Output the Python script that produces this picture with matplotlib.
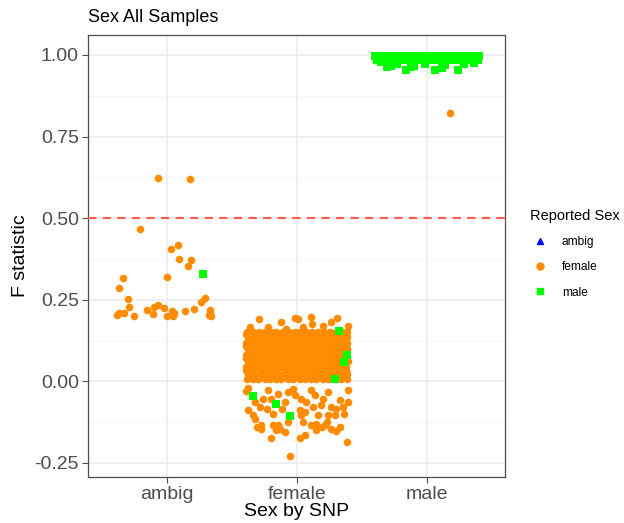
import numpy as np
import matplotlib
matplotlib.use("Agg")
import matplotlib.pyplot as plt
from matplotlib.lines import Line2D

plt.rcParams["font.family"] = ["Liberation Sans", "DejaVu Sans"]

# categories on x (Sex by SNP)
categories = ["ambig", "female", "male"]

# ambig group, reported female (offset from category centre, F)
ambig_f_x = [-0.064, 0.179, -0.205, 0.087, 0.031, 0.092, 0.189, 0.161, -0.337, 0.003,
             -0.366, -0.301, 0.294, 0.261, -0.291, -0.069, -0.097, -0.151, -0.102, -0.021,
             -0.381, -0.366, -0.329, -0.251, 0.003, 0.038, 0.056, 0.049, 0.138, 0.209,
             0.330, 0.335, 0.342, 0.324]
ambig_f_y = [0.622, 0.621, 0.468, 0.419, 0.404, 0.376, 0.373, 0.353, 0.316, 0.321,
             0.286, 0.252, 0.254, 0.244, 0.228, 0.235, 0.228, 0.220, 0.207, 0.224,
             0.203, 0.210, 0.209, 0.201, 0.201, 0.214, 0.209, 0.201, 0.216, 0.223,
             0.220, 0.210, 0.200, 0.202]
# ambig group, reported male
ambig_m_x = [0.278]
ambig_m_y = [0.329]

# female group: dense core, rows of (F, offsets)
female_core = [
    (0.006, [-0.386, -0.338, -0.297, -0.246, -0.207, -0.158, -0.118, -0.066, -0.027, 0.022, 0.061, 0.113, 0.152, 0.204, 0.243, 0.291, 0.338, 0.384]),
    (0.015, [-0.364, -0.317, -0.273, -0.226, -0.183, -0.137, -0.091, -0.044, 0.001, 0.045, 0.091, 0.136, 0.181, 0.226, 0.271, 0.316, 0.362]),
    (0.024, [-0.371, -0.322, -0.281, -0.233, -0.188, -0.141, -0.094, -0.049, -0.004, 0.043, 0.088, 0.131, 0.177, 0.222, 0.268, 0.313, 0.358, 0.389]),
    (0.034, [-0.392, -0.346, -0.259, -0.213, -0.167, -0.072, -0.026, 0.019, 0.066, 0.109, 0.154, 0.199, 0.246, 0.336, 0.381]),
    (0.043, [-0.389, -0.344, -0.301, -0.255, -0.212, -0.166, -0.122, -0.075, -0.031, 0.014, 0.057, 0.104, 0.149, 0.193, 0.238, 0.284, 0.329, 0.377]),
    (0.052, [-0.366, -0.318, -0.277, -0.232, -0.187, -0.143, -0.097, -0.052, -0.006, 0.037, 0.081, 0.127, 0.171, 0.216, 0.262, 0.307, 0.354]),
    (0.061, [-0.378, -0.329, -0.286, -0.239, -0.193, -0.149, -0.102, -0.058, -0.011, 0.034, 0.079, 0.126, 0.169, 0.214, 0.259, 0.306, 0.352, 0.391]),
    (0.070, [-0.391, -0.353, -0.308, -0.262, -0.216, -0.171, -0.126, -0.081, -0.035, 0.011, 0.056, 0.101, 0.147, 0.192, 0.237, 0.283, 0.327, 0.372]),
    (0.080, [-0.388, -0.342, -0.296, -0.251, -0.206, -0.161, -0.114, -0.069, -0.023, 0.021, 0.067, 0.112, 0.158, 0.203, 0.249, 0.294, 0.339, 0.382]),
    (0.089, [-0.362, -0.319, -0.272, -0.228, -0.183, -0.136, -0.092, -0.046, -0.001, 0.046, 0.092, 0.137, 0.182, 0.227, 0.273, 0.318, 0.364]),
    (0.098, [-0.374, -0.327, -0.283, -0.236, -0.191, -0.145, -0.099, -0.054, -0.008, 0.038, 0.083, 0.129, 0.174, 0.219, 0.263, 0.309, 0.355, 0.389]),
    (0.108, [-0.393, -0.351, -0.306, -0.259, -0.214, -0.169, -0.123, -0.078, -0.033, 0.013, 0.058, 0.103, 0.149, 0.194, 0.239, 0.285, 0.331, 0.376]),
    (0.117, [-0.387, -0.341, -0.294, -0.249, -0.203, -0.158, -0.111, -0.066, -0.021, 0.025, 0.071, 0.116, 0.161, 0.206, 0.252, 0.297, 0.342, 0.385]),
    (0.126, [-0.361, -0.314, -0.268, -0.224, -0.179, -0.133, -0.087, -0.042, 0.004, 0.049, 0.094, 0.141, 0.186, 0.231, 0.276, 0.322, 0.367]),
    (0.135, [-0.376, -0.331, -0.285, -0.238, -0.194, -0.148, -0.103, -0.057, -0.012, 0.033, 0.078, 0.124, 0.168, 0.215, 0.258, 0.304, 0.349, 0.388]),
    (0.144, [-0.392, -0.356, -0.309, -0.264, -0.219, -0.173, -0.128, -0.083, -0.037, 0.009, 0.053, 0.098, 0.144, 0.189, 0.234, 0.279, 0.326, 0.371]),
    (0.152, [-0.383, -0.339, -0.291, -0.247, -0.199, -0.156, -0.108, -0.063, -0.017, 0.029, 0.074, 0.119, 0.165, 0.209, 0.256, 0.301, 0.345, 0.386]),
]
# female group: scattered points outside the core
female_f_x = [-0.291, -0.123, -0.010, 0.010, 0.113, 0.118, 0.266, 0.307, 0.393, -0.360, -0.220, -0.079, 0.048, 0.201,
              -0.393, -0.373, -0.335, -0.317, -0.309, -0.271, -0.271, -0.194, -0.182, -0.156, -0.143, -0.130, -0.092,
              -0.067, -0.054, 0.023, 0.061, 0.048, 0.113, 0.151, 0.194, 0.215, 0.235, 0.266, 0.304, 0.330, 0.389,
              0.367, 0.291, 0.240, 0.164, 0.061, 0.023, -0.182, -0.232, -0.283, -0.117, -0.092, -0.194, -0.258,
              -0.322, 0.036, 0.074, 0.125, 0.189, 0.266, 0.304, 0.355, 0.393, 0.330, 0.201, 0.138, -0.015, -0.143,
              -0.220, -0.373, -0.028, -0.067, 0.113, 0.240, 0.393, 0.036, 0.151]
female_f_y = [0.192, 0.182, 0.194, 0.190, 0.197, 0.177, 0.182, 0.194, 0.171, 0.166, 0.166, 0.161, 0.166, 0.171,
              -0.031, -0.089, -0.104, -0.114, -0.140, -0.135, -0.145, -0.175, -0.135, -0.150, -0.135, -0.145, -0.155,
              -0.125, -0.229, -0.175, -0.163, -0.125, -0.135, -0.130, -0.140, -0.135, -0.125, -0.145, -0.153, -0.140, -0.186,
              -0.099, -0.102, -0.102, -0.102, -0.094, -0.089, -0.099, -0.084, -0.079, -0.084, -0.063, -0.053, -0.053,
              -0.063, -0.053, -0.063, -0.079, -0.073, -0.079, -0.084, -0.079, -0.063, -0.058, -0.053, -0.043, -0.043, -0.038,
              -0.028, -0.020, -0.022, -0.033, -0.028, -0.033, -0.028, -0.104, -0.150]
female_m_x = [-0.335, -0.156, -0.048, 0.322, 0.388, 0.360, 0.291]
female_m_y = [-0.046, -0.068, -0.106, 0.153, 0.080, 0.059, 0.006]

# male group: reported male rows near 1
male_core = [
    (0.997, [-0.398, -0.361, -0.322, -0.284, -0.247, -0.205, -0.168, -0.129, -0.091, -0.052, -0.013, 0.026, 0.064, 0.103, 0.141, 0.182, 0.219, 0.258, 0.297, 0.336, 0.373, 0.399]),
    (0.986, [-0.384, -0.345, -0.301, -0.262, -0.221, -0.186, -0.144, -0.107, -0.066, -0.029, 0.011, 0.047, 0.088, 0.127, 0.163, 0.204, 0.243, 0.279, 0.318, 0.357, 0.392]),
]
male_m_x = [-0.304, -0.278, -0.156, -0.125, -0.100, -0.010, 0.067, 0.117, 0.143, 0.238, 0.284, 0.360, -0.232, -0.355]
male_m_y = [0.962, 0.965, 0.955, 0.962, 0.967, 0.973, 0.955, 0.960, 0.969, 0.955, 0.973, 0.976, 0.973, 0.978]
male_f_x = [0.176]
male_f_y = [0.821]

ORANGE = "#FF8C00"
GREEN = "#00FF00"
BLUE = "#0000FF"

fig = plt.figure(figsize=(6.24, 5.23), dpi=100)
ax = fig.add_axes([0.141, 0.088, 0.668, 0.845])

# female-reported points
fx, fy = [], []
fx += [1 + v for v in ambig_f_x]; fy += ambig_f_y
for yv, offs in female_core:
    fx += [2 + o for o in offs]; fy += [yv] * len(offs)
fx += [2 + v for v in female_f_x]; fy += female_f_y
fx += [3 + v for v in male_f_x]; fy += male_f_y
ax.scatter(fx, fy, s=30, c=ORANGE, marker="o", linewidths=0, zorder=3)

# male-reported points
mx, my = [], []
for yv, offs in male_core:
    mx += [3 + o for o in offs]; my += [yv] * len(offs)
mx += [3 + v for v in male_m_x]; my += male_m_y
mx += [1 + v for v in ambig_m_x]; my += ambig_m_y
mx += [2 + v for v in female_m_x]; my += female_m_y
ax.scatter(mx, my, s=26, c=GREEN, marker="s", linewidths=0, zorder=4)

ax.axhline(0.5, color="#FF5A4E", ls=(0, (4, 3)), lw=1.5, zorder=5)

ax.set_xlim(0.395, 3.6)
ax.set_ylim(-0.293, 1.061)
ax.set_xticks([1, 2, 3])
ax.set_xticklabels(categories)
ax.set_yticks([-0.25, 0, 0.25, 0.5, 0.75, 1.0])
ax.set_yticklabels(["-0.25", "0.00", "0.25", "0.50", "0.75", "1.00"])
ax.set_yticks([-0.125, 0.125, 0.375, 0.625, 0.875], minor=True)
ax.grid(True, which="major", color="#EBEBEB", lw=1.1, zorder=0)
ax.grid(True, which="minor", axis="y", color="#F4F4F4", lw=0.6, zorder=0)
ax.set_axisbelow(True)
ax.tick_params(axis="both", which="major", labelsize=14, labelcolor="#4D4D4D", color="#4D4D4D",
               length=4, width=0.8, pad=2.5)
ax.tick_params(axis="y", which="minor", length=0)
for sp in ax.spines.values():
    sp.set_color("#4D4D4D")
    sp.set_linewidth(0.9)

ax.set_xlabel("Sex by SNP", fontsize=14)
ax.xaxis.label.set_va("center")
ax.xaxis.set_label_coords(0.5, -0.077)
ax.set_ylabel("F statistic", fontsize=14)
ax.yaxis.label.set_va("center")
ax.yaxis.set_label_coords(-0.161, 0.5)
fig.text(0.141, 0.967, "Sex All Samples", fontsize=13, va="center", ha="left")

handles = [
    Line2D([], [], ls="", marker="^", color=BLUE, markersize=5, label="ambig"),
    Line2D([], [], ls="", marker="o", color=ORANGE, markersize=5, label="female"),
    Line2D([], [], ls="", marker="s", color=GREEN, markersize=4.5, label="male"),
]
leg = fig.legend(handles=handles, title="Reported Sex", loc="upper left",
                 bbox_to_anchor=(0.849, 0.600), frameon=False, fontsize=8.6, borderpad=0,
                 borderaxespad=0, title_fontsize=10.5, labelspacing=1.1,
                 handletextpad=1.0, handlelength=1.67)
leg._legend_box.align = "left"

fig.savefig("out.png", dpi=100)
